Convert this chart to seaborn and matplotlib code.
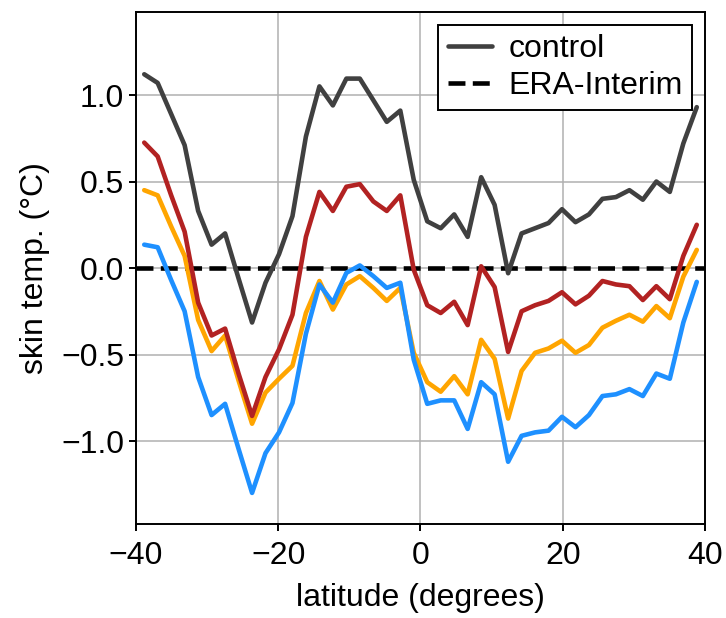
import numpy as np
import pandas as pd
import matplotlib
matplotlib.use('Agg')
import matplotlib.pyplot as plt
import seaborn as sns

# latitude grid (degrees)
lat = [-38.84, -36.95, -35.05, -33.16, -31.26, -29.37, -27.47, -25.58, -23.68, -21.79,
       -19.89, -18.00, -16.11, -14.21, -12.32, -10.42, -8.53, -6.63, -4.74, -2.84,
       -0.95, 0.95, 2.84, 4.74, 6.63, 8.53, 10.42, 12.32, 14.21, 16.11,
       18.00, 19.89, 21.79, 23.68, 25.58, 27.47, 29.37, 31.26, 33.16, 35.05,
       36.95, 38.84]

# skin temperature anomalies (degC)
control = [1.12, 1.07, 0.89, 0.71, 0.33, 0.135, 0.20, -0.06, -0.315, -0.085,
           0.08, 0.30, 0.76, 1.05, 0.94, 1.095, 1.095, 0.97, 0.845, 0.91,
           0.51, 0.27, 0.23, 0.31, 0.18, 0.525, 0.365, -0.03, 0.20, 0.23,
           0.26, 0.34, 0.265, 0.31, 0.40, 0.41, 0.45, 0.395, 0.50, 0.44,
           0.72, 0.93]
red_run = [0.725, 0.645, 0.42, 0.21, -0.20, -0.39, -0.35, -0.61, -0.855, -0.63,
           -0.47, -0.27, 0.18, 0.44, 0.33, 0.47, 0.485, 0.385, 0.33, 0.42,
           -0.01, -0.215, -0.26, -0.195, -0.33, 0.01, -0.11, -0.485, -0.25, -0.215,
           -0.19, -0.14, -0.21, -0.16, -0.075, -0.095, -0.105, -0.185, -0.105, -0.18,
           0.07, 0.25]
orange_run = [0.45, 0.42, 0.24, 0.07, -0.30, -0.48, -0.39, -0.65, -0.90, -0.72,
              -0.64, -0.565, -0.26, -0.075, -0.24, -0.095, -0.047, -0.115, -0.19, -0.115,
              -0.49, -0.66, -0.715, -0.625, -0.73, -0.415, -0.525, -0.87, -0.595, -0.49,
              -0.465, -0.42, -0.49, -0.445, -0.345, -0.305, -0.27, -0.31, -0.22, -0.29,
              -0.05, 0.105]
blue_run = [0.135, 0.12, -0.07, -0.25, -0.63, -0.85, -0.785, -1.045, -1.30, -1.07,
            -0.95, -0.78, -0.38, -0.095, -0.20, -0.028, 0.015, -0.047, -0.115, -0.085,
            -0.53, -0.785, -0.765, -0.765, -0.93, -0.66, -0.73, -1.12, -0.97, -0.95,
            -0.94, -0.86, -0.92, -0.85, -0.74, -0.73, -0.70, -0.74, -0.61, -0.64,
            -0.315, -0.08]

# ERA-Interim reference (zero line)
era_lat = [-40, 40]
era = [0.0, 0.0]

sns.set_style('ticks')
plt.rcParams['font.family'] = ['Liberation Sans', 'DejaVu Sans']
plt.rcParams['axes.unicode_minus'] = True
for key in ['text.color', 'axes.labelcolor', 'xtick.color', 'ytick.color']:
    plt.rcParams[key] = 'black'

fig = plt.figure(figsize=(7.26, 6.18), dpi=100)
ax = fig.add_axes([0.1873, 0.152, 0.7838, 0.8286])

lw = 3.3
sns.lineplot(x=era_lat, y=era, ax=ax, color='black', linestyle='--', lw=lw,
             label='ERA-Interim', zorder=2)
sns.lineplot(x=lat, y=orange_run, ax=ax, color='orange', lw=lw, zorder=3)
sns.lineplot(x=lat, y=red_run, ax=ax, color='firebrick', lw=lw, zorder=4)
sns.lineplot(x=lat, y=blue_run, ax=ax, color='dodgerblue', lw=lw, zorder=4)
sns.lineplot(x=lat, y=control, ax=ax, color='#404040', lw=lw, label='control', zorder=5)

ax.set_xlim(-40, 40)
ax.set_ylim(-1.48, 1.48)
ax.set_xticks([-40, -20, 0, 20, 40])
ax.set_yticks([-1.0, -0.5, 0.0, 0.5, 1.0])
ax.grid(True, color='#b0b0b0', lw=1.1)
ax.set_axisbelow(True)

fs = 23
ax.set_xlabel('latitude (degrees)', fontsize=fs, labelpad=9)
ax.set_ylabel('skin temp. (°C)', fontsize=fs, labelpad=8)
ax.tick_params(labelsize=fs, width=1.4, length=5)
ax.tick_params(axis='x', pad=7)
for s in ax.spines.values():
    s.set_visible(True)
    s.set_color('black')
    s.set_linewidth(1.4)

handles, labels = ax.get_legend_handles_labels()
order = [labels.index('control'), labels.index('ERA-Interim')]
leg = ax.legend([handles[i] for i in order], [labels[i] for i in order],
                loc='upper right', fontsize=fs, frameon=True, fancybox=False,
                framealpha=1, edgecolor='black', handlelength=1.4,
                borderaxespad=0.4, borderpad=0.3, labelspacing=0.2, handletextpad=0.5)
leg.get_frame().set_linewidth(1.4)

fig.savefig('out.png', dpi=100)
